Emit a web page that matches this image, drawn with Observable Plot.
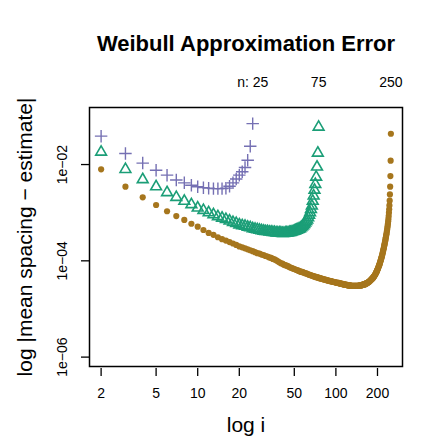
<!DOCTYPE html>
<html><head><meta charset="utf-8">
<script src="https://cdn.jsdelivr.net/npm/d3@7"></script>
<script src="https://cdn.jsdelivr.net/npm/@observablehq/plot@0.6"></script>
<style>body{margin:0;background:#fff}</style>
</head><body><div id="chart"></div>
<script>
const title = "Weibull Approximation Error";
const xLabel = "log i";
const yLabel = "log |mean spacing \u2212 estimate|";
const xTicks = [2, 5, 10, 20, 50, 100, 200];
const xTickLabels = ["2", "5", "10", "20", "50", "100", "200"];
const yTicks = [1e-6, 1e-4, 1e-2];
const yTickLabels = ["1e\u221206", "1e\u221204", "1e\u221202"];
const nValues = [25, 75, 250];
const nLabels = ["n: 25", "75", "250"];
const firstI = 2;

// log10 |mean spacing - estimate| for i = 2, 3, ...
const err25 = [
  -1.41, -1.77, -1.97, -2.12, -2.22, -2.32, -2.38, -2.43, -2.46,
  -2.48, -2.49, -2.50, -2.50, -2.50, -2.49, -2.45, -2.38, -2.30, -2.22,
  -2.15, -2.06, -1.91, -1.62, -1.15
];
const err75 = [
  -1.74, -2.10, -2.31, -2.46, -2.58, -2.68, -2.76, -2.83, -2.90,
  -2.95, -3.00, -3.04, -3.08, -3.11, -3.14, -3.17, -3.20, -3.22, -3.25,
  -3.27, -3.28, -3.30, -3.31, -3.33, -3.34, -3.35, -3.36, -3.37, -3.38,
  -3.39, -3.39, -3.40, -3.40, -3.41, -3.41, -3.42, -3.42, -3.42, -3.42,
  -3.43, -3.43, -3.42, -3.42, -3.42, -3.41, -3.41, -3.40, -3.39, -3.38,
  -3.37, -3.36, -3.35, -3.34, -3.33, -3.31, -3.29, -3.27, -3.24, -3.21,
  -3.18, -3.15, -3.10, -3.05, -3.00, -2.93, -2.86, -2.76, -2.65, -2.53,
  -2.41, -2.26, -2.05, -1.76, -1.22
];
const err250 = [
  -2.10, -2.46, -2.68, -2.84, -2.97, -3.07, -3.15, -3.23, -3.29,
  -3.36, -3.42, -3.46, -3.51, -3.55, -3.58, -3.61, -3.64, -3.67, -3.70,
  -3.72, -3.74, -3.76, -3.78, -3.80, -3.82, -3.84, -3.85, -3.87, -3.88,
  -3.90, -3.91, -3.93, -3.94, -3.96, -3.97, -3.99, -4.01, -4.03, -4.05,
  -4.06, -4.08, -4.09, -4.10, -4.11, -4.13, -4.14, -4.15, -4.16, -4.17,
  -4.18, -4.19, -4.20, -4.21, -4.22, -4.23, -4.23, -4.24, -4.25, -4.26,
  -4.26, -4.27, -4.28, -4.29, -4.29, -4.30, -4.31, -4.31, -4.32, -4.33,
  -4.33, -4.34, -4.34, -4.35, -4.35, -4.36, -4.36, -4.37, -4.37, -4.38,
  -4.38, -4.39, -4.39, -4.39, -4.40, -4.40, -4.41, -4.41, -4.41, -4.42,
  -4.42, -4.42, -4.43, -4.43, -4.43, -4.44, -4.44, -4.44, -4.45, -4.45,
  -4.45, -4.46, -4.46, -4.46, -4.46, -4.47, -4.47, -4.47, -4.48, -4.48,
  -4.48, -4.48, -4.49, -4.49, -4.49, -4.49, -4.50, -4.50, -4.50, -4.50,
  -4.50, -4.51, -4.51, -4.51, -4.51, -4.51, -4.51, -4.52, -4.52, -4.52,
  -4.52, -4.52, -4.52, -4.52, -4.52, -4.52, -4.52, -4.52, -4.52, -4.52,
  -4.52, -4.52, -4.52, -4.52, -4.52, -4.52, -4.52, -4.51, -4.51, -4.51,
  -4.51, -4.51, -4.51, -4.50, -4.50, -4.50, -4.50, -4.49, -4.49, -4.49,
  -4.49, -4.49, -4.48, -4.48, -4.47, -4.47, -4.47, -4.46, -4.46, -4.45,
  -4.45, -4.44, -4.44, -4.43, -4.43, -4.42, -4.41, -4.41, -4.40, -4.39,
  -4.39, -4.38, -4.37, -4.36, -4.36, -4.35, -4.34, -4.33, -4.32, -4.31,
  -4.30, -4.29, -4.28, -4.27, -4.25, -4.24, -4.23, -4.21, -4.20, -4.18,
  -4.17, -4.15, -4.14, -4.12, -4.10, -4.09, -4.07, -4.05, -4.03, -4.01,
  -3.99, -3.97, -3.95, -3.93, -3.91, -3.89, -3.86, -3.84, -3.81, -3.79,
  -3.76, -3.74, -3.71, -3.68, -3.66, -3.63, -3.60, -3.57, -3.54, -3.51,
  -3.48, -3.45, -3.42, -3.38, -3.35, -3.31, -3.27, -3.23, -3.18, -3.13,
  -3.07, -3.00, -2.93, -2.85, -2.75, -2.62, -2.46, -2.24, -1.92, -1.36
];

const W = 439, H = 439, mL = 89, mR = 37, mT = 107, mB = 73;
const fw = W - mL - mR, fh = H - mT - mB;
const font = "'Liberation Sans', Arial, Helvetica, sans-serif";

function rowsOf(vals, n) {
  return vals.map((v, k) => ({i: firstI + k, err: Math.pow(10, v), n}));
}
const rows25 = rowsOf(err25, 25);
const rows75 = rowsOf(err75, 75);
const rows250 = rowsOf(err250, 250);

const txt = {fontFamily: font, fill: "black", textAnchor: "middle", lineAnchor: "middle"};

const chart = Plot.plot({
  width: W, height: H,
  marginLeft: mL, marginRight: mR, marginTop: mT, marginBottom: mB,
  style: {fontFamily: font, background: "white", color: "black"},
  x: {type: "log", domain: [Math.pow(10, 0.217), Math.pow(10, 2.482)], axis: null},
  y: {type: "log", domain: [Math.pow(10, -6.195), Math.pow(10, -0.815)], axis: null},
  marks: [
    Plot.ruleX(xTicks, {x: d => d, insetTop: fh + 2, insetBottom: -10, stroke: "black", strokeWidth: 1.3}),
    Plot.ruleY(yTicks, {y: d => d, insetLeft: -8, insetRight: fw, stroke: "black", strokeWidth: 1.3}),
    Plot.text(xTicks, {...txt, x: d => d, text: (d, k) => xTickLabels[k], frameAnchor: "bottom", dy: 27, fontSize: 14}),
    Plot.text(yTicks, {...txt, y: d => d, text: (d, k) => yTickLabels[k], frameAnchor: "left", dx: -27, rotate: -90, fontSize: 14}),
    Plot.text(nValues, {...txt, x: d => d, text: (d, k) => nLabels[k], frameAnchor: "top", dy: -25, fontSize: 14}),
    Plot.text([title], {...txt, frameAnchor: "top", dy: -64, fontSize: 22, fontWeight: "bold"}),
    Plot.text([xLabel], {...txt, frameAnchor: "bottom", dy: 59, fontSize: 21}),
    Plot.text([yLabel], {...txt, frameAnchor: "left", dx: -64, rotate: -90, fontSize: 21}),
    Plot.dot(rows25, {x: "i", y: "err", symbol: "plus", r: 4.1, stroke: "#7570B3", strokeWidth: 1.4}),
    Plot.dot(rows75, {x: "i", y: "err", symbol: "triangle", r: 4, stroke: "#1B9E77", strokeWidth: 1.6, fill: "none"}),
    Plot.dot(rows250, {x: "i", y: "err", symbol: "circle", r: 3.1, fill: "#A6761D", stroke: "none"}),
    Plot.frame({stroke: "black", strokeWidth: 1.5})
  ]
});
document.getElementById("chart").append(chart);
</script>
</body></html>
